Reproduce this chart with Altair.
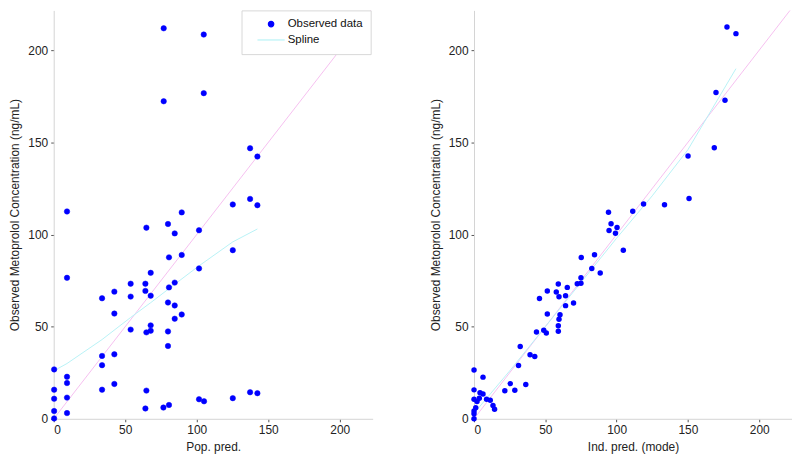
import altair as alt
import pandas as pd

# ---- Left panel: population predictions vs observed ----
pop_pred = [9.3, 125.2, 89.5, 64.8, 79.9, 84.6, 101.6, 125.2, 80.6, 89.5,
            101.6, 9.3, 67.8, 53.8, 64.1, 84.6, 80.6, 33.8, 42.4, 53.8,
            64.1, 67.8, 79.9, 84.6, 42.4, 89.5, 84.6, 67.8, 53.8, 64.8,
            67.8, 79.9, 79.9, 33.8, 42.4, 33.8, 0.3, 9.3, 9.3, 0.3,
            33.8, 42.4, 64.8, 0.3, 9.3, 101.6, 105.1, 125.2, 0.3, 9.3,
            64.1, 76.7, 80.6, 0.3, 76.9, 104.9, 76.9, 104.9, 137.3, 142.4,
            137.3, 142.4, 137.3, 142.4]
obs_pop = [112.5, 116.3, 112.0, 103.7, 105.7, 100.6, 102.3, 91.5, 87.6, 88.9,
           81.6, 76.5, 79.2, 73.3, 73.3, 73.9, 71.3, 65.4, 69.0, 66.3,
           69.4, 66.8, 63.1, 61.5, 57.1, 56.6, 54.3, 50.7, 48.4, 46.9,
           47.8, 47.4, 39.5, 34.1, 35.0, 29.1, 26.8, 22.8, 19.4, 15.8,
           15.8, 18.9, 15.3, 10.9, 11.5, 10.6, 9.5, 11.2, 4.2, 3.1,
           5.6, 6.1, 7.5, 0.2, 211.9, 208.5, 172.3, 176.7, 146.8, 142.3,
           119.3, 115.9, 14.4, 13.9]

# ---- Right panel: individual predictions vs observed ----
ind_pred = [177.4, 183.7, 169.7, 176.0, 150.1, 168.5, 150.8, 118.9, 133.6, 111.3,
            94.3, 96.1, 94.7, 100.3, 99.2, 104.7, 75.2, 84.5, 82.6, 88.5,
            75.0, 72.4, 75.0, 59.1, 65.4, 51.4, 57.7, 59.6, 64.2, 45.9,
            69.8, 64.2, 51.4, 60.3, 59.6, 59.1, 59.1, 43.8, 48.9, 50.7,
            32.4, 39.3, 42.6, 31.2, 36.3, 25.4, 21.6, 28.6, 0.0, 6.3,
            0.0, 4.2, 6.3, 0.0, 3.7, 2.1, 8.8, 11.4, 13.3, 14.4,
            1.2, 0.0, 0.0, 0.0]
obs_ind = [212.6, 209.0, 177.1, 172.9, 142.6, 147.1, 119.5, 116.6, 116.1, 112.6,
           112.1, 105.8, 102.2, 103.8, 100.7, 91.5, 87.5, 89.0, 81.6, 79.1,
           76.5, 73.3, 73.6, 73.1, 71.3, 69.3, 68.8, 66.2, 66.8, 65.3,
           62.8, 61.4, 56.9, 56.5, 54.0, 50.5, 47.5, 47.1, 48.0, 46.6,
           39.2, 34.8, 33.8, 28.9, 18.6, 19.1, 15.2, 15.5, 26.5, 22.6,
           15.7, 14.1, 13.5, 10.6, 11.2, 9.4, 10.6, 10.1, 7.2, 5.2,
           6.0, 4.2, 2.7, 0.0]

# ---- Spline smooths ----
spline_pop_x = [0, 9.3, 33.8, 53.8, 67.8, 84.6, 101.6, 125.2, 142.4]
spline_pop_y = [26, 30, 43, 55, 63, 73, 83, 96, 103]
spline_ind_x = [0, 25, 50, 75, 100, 125, 150, 183.7]
spline_ind_y = [3, 26, 50, 74, 98, 121, 146, 190]

# ---- Identity line and axis ranges ----
identity = [0, 223]
x_domain = [0, 223]
y_domain = [0, 221.6]
ticks = [0, 50, 100, 150, 200]
series_names = ["Observed data", "Spline"]

FONT = "Liberation Sans"
Y_TITLE = "Observed Metoprolol Concentration (ng/mL)"
PINK = "#f6c0f0"
CYAN = "#b8f2f6"
BLUE = "#0000ff"


def axis(title):
    return alt.Axis(
        title=title, values=ticks, grid=False, domainColor="#d4d4d4",
        tickColor="#555555", tickSize=3, labelPadding=3,
        labelFont=FONT, labelFontSize=12, labelColor="#222222",
        titleFont=FONT, titleFontSize=12, titleFontWeight="normal",
        titleColor="#222222", titlePadding=6,
    )


def panel(xs, ys, sx, sy, xtitle, with_legend):
    xsc = alt.Scale(domain=x_domain, nice=False, zero=True)
    ysc = alt.Scale(domain=y_domain, nice=False, zero=True)
    id_df = pd.DataFrame({"x": identity, "y": identity})
    sp_df = pd.DataFrame({"x": sx, "y": sy, "series": series_names[1]})
    pt_df = pd.DataFrame({"x": xs, "y": ys, "series": series_names[0]})

    ident = alt.Chart(id_df).mark_line(color=PINK, strokeWidth=1, clip=True).encode(
        x=alt.X("x:Q", scale=xsc, axis=axis(xtitle)),
        y=alt.Y("y:Q", scale=ysc, axis=axis(Y_TITLE)),
    )
    if with_legend:
        leg = alt.Legend(
            title=None, orient="none", legendX=189, legendY=0,
            labelFont=FONT, labelFontSize=11.5, labelColor="#111111",
            strokeColor="#d8d8d8", fillColor="white", padding=8,
            rowPadding=3, symbolStrokeWidth=1.2, labelOffset=11,
            symbolOffset=16, symbolSize=30,
        )
        col_scale = alt.Scale(domain=series_names, range=[BLUE, CYAN])
        fill = alt.Fill("series:N", scale=col_scale, legend=leg)
        stroke = alt.Stroke("series:N", scale=col_scale, legend=leg)
        shape = alt.Shape(
            "series:N",
            scale=alt.Scale(domain=series_names, range=["circle", "M-5,0L5,0"]),
            legend=leg,
        )
        spline = alt.Chart(sp_df).mark_line(strokeWidth=1).encode(
            x="x:Q", y="y:Q", stroke=stroke)
        pts = alt.Chart(pt_df).mark_point(filled=True, opacity=1, size=30,
                                          strokeWidth=0.5).encode(
            x="x:Q", y="y:Q", fill=fill, stroke=stroke, shape=shape)
    else:
        spline = alt.Chart(sp_df).mark_line(strokeWidth=1, color=CYAN).encode(
            x="x:Q", y="y:Q")
        pts = alt.Chart(pt_df).mark_circle(opacity=1, size=30, color=BLUE).encode(
            x="x:Q", y="y:Q")
    return alt.layer(ident, spline, pts)


left = panel(pop_pred, obs_pop, spline_pop_x, spline_pop_y, "Pop. pred.", True).properties(
    width=321, height=411)
right = panel(ind_pred, obs_ind, spline_ind_x, spline_ind_y, "Ind. pred. (mode)", False).properties(
    width=320, height=411)

chart = alt.hconcat(left, right, spacing=56).properties(
    padding={"left": 0, "top": 0, "right": 0, "bottom": 0},
    background="white",
).configure_view(strokeWidth=0)

chart.save("out.html", embed_options={"renderer": "svg", "actions": False})
